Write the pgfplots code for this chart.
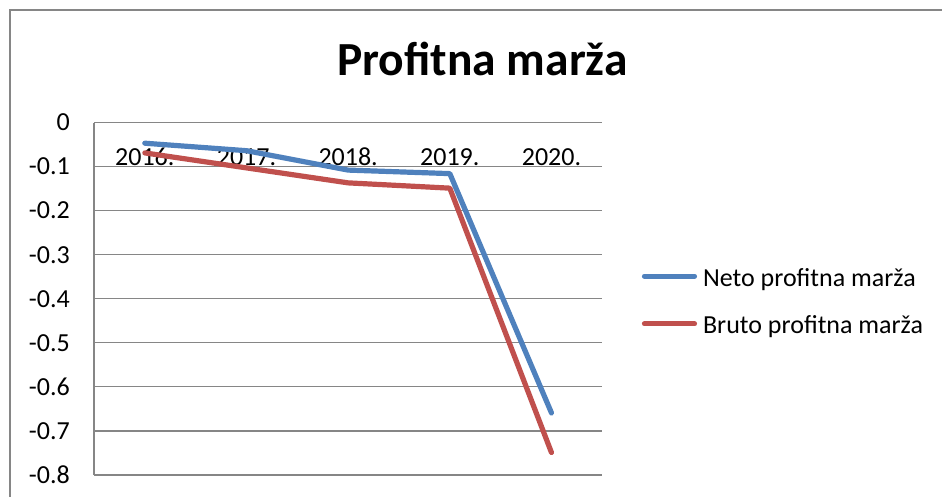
\documentclass[border=0pt]{standalone}
\usepackage{pgfplots}
\pgfplotsset{compat=1.18}
\usepackage{fontspec}
\setmainfont{Carlito}
\definecolor{netoblue}{HTML}{4F81BD}
\definecolor{brutored}{HTML}{C0504D}
\definecolor{gridgray}{RGB}{134,134,134}
\begin{document}
\begin{tikzpicture}
\useasboundingbox (0bp,0bp) rectangle (942bp,-497bp);
\draw[gridgray, line width=1.3bp] (10bp,-520bp) -- (10bp,-10bp) -- (960bp,-10bp);
\node[anchor=base, inner sep=0pt, font=\fontsize{47.5bp}{52bp}\selectfont\bfseries] at (482.5bp,-75bp) {Profitna marža};
\begin{axis}[
  at={(94bp,-475bp)}, anchor=south west,
  scale only axis, width=508.3bp, height=352.5bp,
  xmin=-0.5, xmax=4.5, ymin=-0.8, ymax=0,
  xtick={0,1,2,3,4}, xticklabels={2016.,2017.,2018.,2019.,2020.},
  ytick={-0.8,-0.7,-0.6,-0.5,-0.4,-0.3,-0.2,-0.1,0},
  yticklabels={-0.8,-0.7,-0.6,-0.5,-0.4,-0.3,-0.2,-0.1,0},
  ymajorgrids, major grid style={gridgray, line width=1.2bp},
  axis line style={draw=none},
  tick style={draw=none},
  extra x ticks={-0.5}, extra x tick labels={},
  extra x tick style={grid=major, major grid style={gridgray, line width=1.2bp}},
  xticklabel pos=upper,
  ticklabel style={font=\fontsize{26bp}{30bp}\selectfont, inner sep=0pt},
  xticklabel style={anchor=base, yshift=-42.5bp},
  yticklabel style={anchor=east, xshift=-24bp},
  legend style={draw=none, fill=none, inner sep=0pt, at={(rel axis cs:1.0775,0.485)}, anchor=west,
    row sep=23.7bp, column sep=6bp, font=\fontsize{26bp}{30bp}\selectfont,
    nodes={inner sep=0pt, text height=18bp, text depth=6bp}},
  legend image code/.code={\draw[#1] (2.5bp,4bp) -- (52.5bp,4bp);},
  legend cell align=left,
  clip=false,
]
\addplot[netoblue, line width=5.2bp, line cap=round, line join=round] coordinates {
  (0,-0.047) (1,-0.064) (2,-0.108) (3,-0.116) (4,-0.659)};
\addlegendentry{Neto profitna marža}
\addplot[brutored, line width=5.2bp, line cap=round, line join=round] coordinates {
  (0,-0.069) (1,-0.103) (2,-0.137) (3,-0.149) (4,-0.749)};
\addlegendentry{Bruto profitna marža}
\end{axis}
\end{tikzpicture}
\end{document}
